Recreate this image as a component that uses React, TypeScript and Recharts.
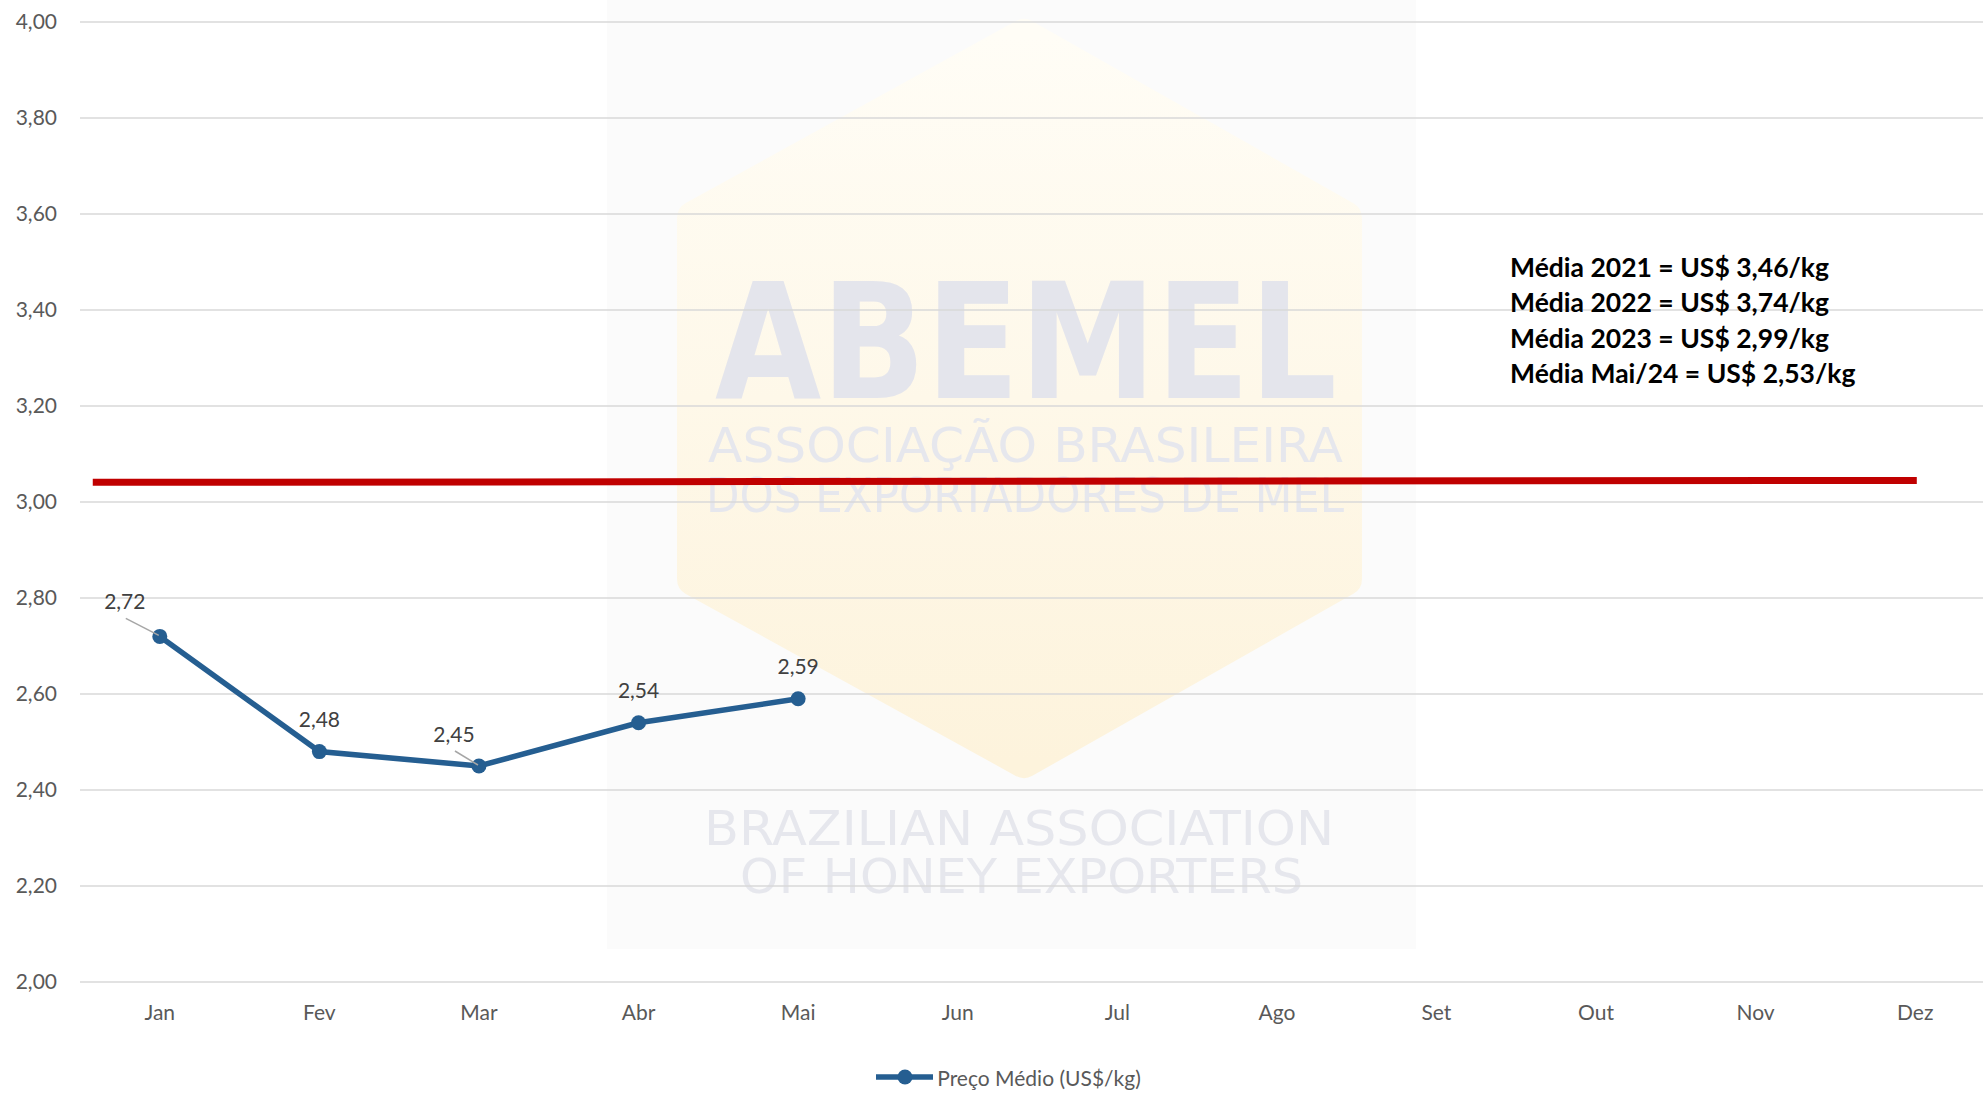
import React from 'react';
import {
    LineChart,
    Line,
    XAxis,
    YAxis,
    CartesianGrid,
    ReferenceLine,
    Legend,
    LabelList
} from 'recharts';

const MONTHS = ['Jan', 'Fev', 'Mar', 'Abr', 'Mai', 'Jun', 'Jul', 'Ago', 'Set', 'Out', 'Nov', 'Dez'];
const PRICE = [2.72, 2.48, 2.45, 2.54, 2.59];
const Y_TICKS = [2.0, 2.2, 2.4, 2.6, 2.8, 3.0, 3.2, 3.4, 3.6, 3.8, 4.0];
// red reference line: start / end (month position, value)
const REF_START = { x: 0.08, y: 3.041 };
const REF_END = { x: 11.51, y: 3.045 };
const NOTES = [
    'Média 2021 = US$ 3,46/kg',
    'Média 2022 = US$ 3,74/kg',
    'Média 2023 = US$ 2,99/kg',
    'Média Mai/24 = US$ 2,53/kg'
];
const SERIES_NAME = 'Preço Médio (US$/kg)';

// pos = month slot centre, used by the hidden numeric axis
const data = MONTHS.map((m, i) => ({ name: m, pos: i + 0.5, preco: i < PRICE.length ? PRICE[i] : null }));

const FONT = 'Lato, "Open Sans", sans-serif';
const BLUE = '#255e91';
const HALF_BAND = 79.8;

// data labels that Excel moved aside (with leader line)
const LABEL_SHIFT: Record<number, { dx: number; dy: number }> = {
    0: { dx: -35, dy: -35 },
    2: { dx: -25, dy: -32 }
};

const fmt = (v: number) => v.toFixed(2).replace('.', ',');

function PointLabel(props: any) {
    const { x, y, value, index } = props;
    if (value == null) return null;
    const shift = LABEL_SHIFT[index] || { dx: 0, dy: -32.5 };
    const cx = x + shift.dx;
    const cy = y + shift.dy;
    return (
        <g>
            {LABEL_SHIFT[index] && (
                <line x1={cx + 1} y1={cy + 17} x2={x - 1} y2={y - 1} stroke="#a6a6a6" strokeWidth={1.5} />
            )}
            <text x={cx} y={cy + 7.5} textAnchor="middle" fontSize={21} fontFamily={FONT} fill="#404040">
                {fmt(value)}
            </text>
        </g>
    );
}

function LegendBox() {
    return (
        <div style={{ height: 50, display: 'flex', alignItems: 'flex-end', justifyContent: 'center', paddingBottom: 5, boxSizing: 'border-box' }}>
            <div style={{ display: 'flex', alignItems: 'center', height: 24, transform: 'translateX(11px)' }}>
                <svg width={58} height={16}>
                    <line x1={0} y1={8} x2={57} y2={8} stroke={BLUE} strokeWidth={5.5} />
                    <circle cx={29} cy={8} r={7.5} fill={BLUE} />
                </svg>
                <span style={{ fontFamily: FONT, fontSize: 21, color: '#595959', marginLeft: 3 }}>{SERIES_NAME}</span>
            </div>
        </div>
    );
}

function Watermark() {
    const txt = '#e6e7ed';
    const cond = '"DejaVu Sans Condensed", "DejaVu Sans", sans-serif';
    return (
        <svg width={1983} height={1094} style={{ position: 'absolute', left: 0, top: 0 }}>
            <defs>
                <linearGradient id="hex" x1="0" y1="0" x2="0" y2="1">
                    <stop offset="0%" stopColor="#fffdf6" />
                    <stop offset="100%" stopColor="#fdf3dc" />
                </linearGradient>
            </defs>
            <rect x={607} y={0} width={809} height={949} fill="#fbfbfb" />
            <polygon
                points="1024,36 1345,218 1345,579 1024,761 694,579 694,218"
                fill="url(#hex)"
                stroke="url(#hex)"
                strokeWidth={34}
                strokeLinejoin="round"
            />
            <text x={715} y={398} fontFamily={cond} fontWeight="bold" fontSize={160} fill="#e4e5ec" textLength={622} lengthAdjust="spacingAndGlyphs">ABEMEL</text>
            <text x={708} y={462} fontFamily={cond} fontSize={48} fill={txt} textLength={635} lengthAdjust="spacingAndGlyphs">ASSOCIAÇÃO BRASILEIRA</text>
            <text x={706} y={512} fontFamily={cond} fontSize={48} fill={txt} textLength={638} lengthAdjust="spacingAndGlyphs">DOS EXPORTADORES DE MEL</text>
            <text x={704} y={845} fontFamily={cond} fontSize={48} fill={txt} textLength={630} lengthAdjust="spacingAndGlyphs">BRAZILIAN ASSOCIATION</text>
            <text x={740} y={893} fontFamily={cond} fontSize={48} fill={txt} textLength={563} lengthAdjust="spacingAndGlyphs">OF HONEY EXPORTERS</text>
        </svg>
    );
}

export default function App() {
    return (
        <div style={{ position: 'absolute', left: 0, top: 0, width: 1983, height: 1094, overflow: 'hidden', background: '#fff' }}>
            <Watermark />
            <div style={{ position: 'absolute', left: 0, top: 0 }}>
                <LineChart width={1995} height={1094} data={data} margin={{ top: 22, right: 0, left: 0, bottom: 0 }}>
                    <CartesianGrid vertical={false} stroke="#d9d9d9" strokeWidth={1.5} />
                    <XAxis
                        dataKey="name"
                        axisLine={false}
                        tickLine={false}
                        tickSize={0}
                        tickMargin={23}
                        height={62}
                        interval={0}
                        padding={{ left: HALF_BAND, right: HALF_BAND }}
                        tick={{ fontSize: 21, fill: '#595959', fontFamily: FONT }}
                    />
                    <XAxis
                        xAxisId="pos"
                        dataKey="pos"
                        type="number"
                        domain={[0, 12]}
                        allowDataOverflow
                        hide
                    />
                    <YAxis
                        domain={[2, 4]}
                        ticks={Y_TICKS}
                        width={80}
                        axisLine={false}
                        tickLine={false}
                        tickSize={0}
                        tickMargin={23}
                        tickFormatter={fmt}
                        tick={{ fontSize: 21, fill: '#595959', fontFamily: FONT }}
                    />
                    <ReferenceLine
                        xAxisId="pos"
                        yAxisId={0}
                        segment={[REF_START, REF_END]}
                        ifOverflow="visible"
                        stroke="#c00000"
                        strokeWidth={7}
                    />
                    <Line
                        type="linear"
                        dataKey="preco"
                        name={SERIES_NAME}
                        stroke={BLUE}
                        strokeWidth={5.5}
                        dot={{ r: 7.5, fill: BLUE, stroke: 'none' }}
                        activeDot={false}
                        isAnimationActive={false}
                    >
                        <LabelList dataKey="preco" content={PointLabel} />
                    </Line>
                    <Legend verticalAlign="bottom" height={50} content={() => <LegendBox />} />
                </LineChart>
            </div>
            <div style={{ position: 'absolute', left: 1510, top: 250, fontFamily: FONT, fontWeight: 700, fontSize: 26.5, lineHeight: '35.3px', color: '#000' }}>
                {NOTES.map((n) => (
                    <div key={n}>{n}</div>
                ))}
            </div>
        </div>
    );
}
